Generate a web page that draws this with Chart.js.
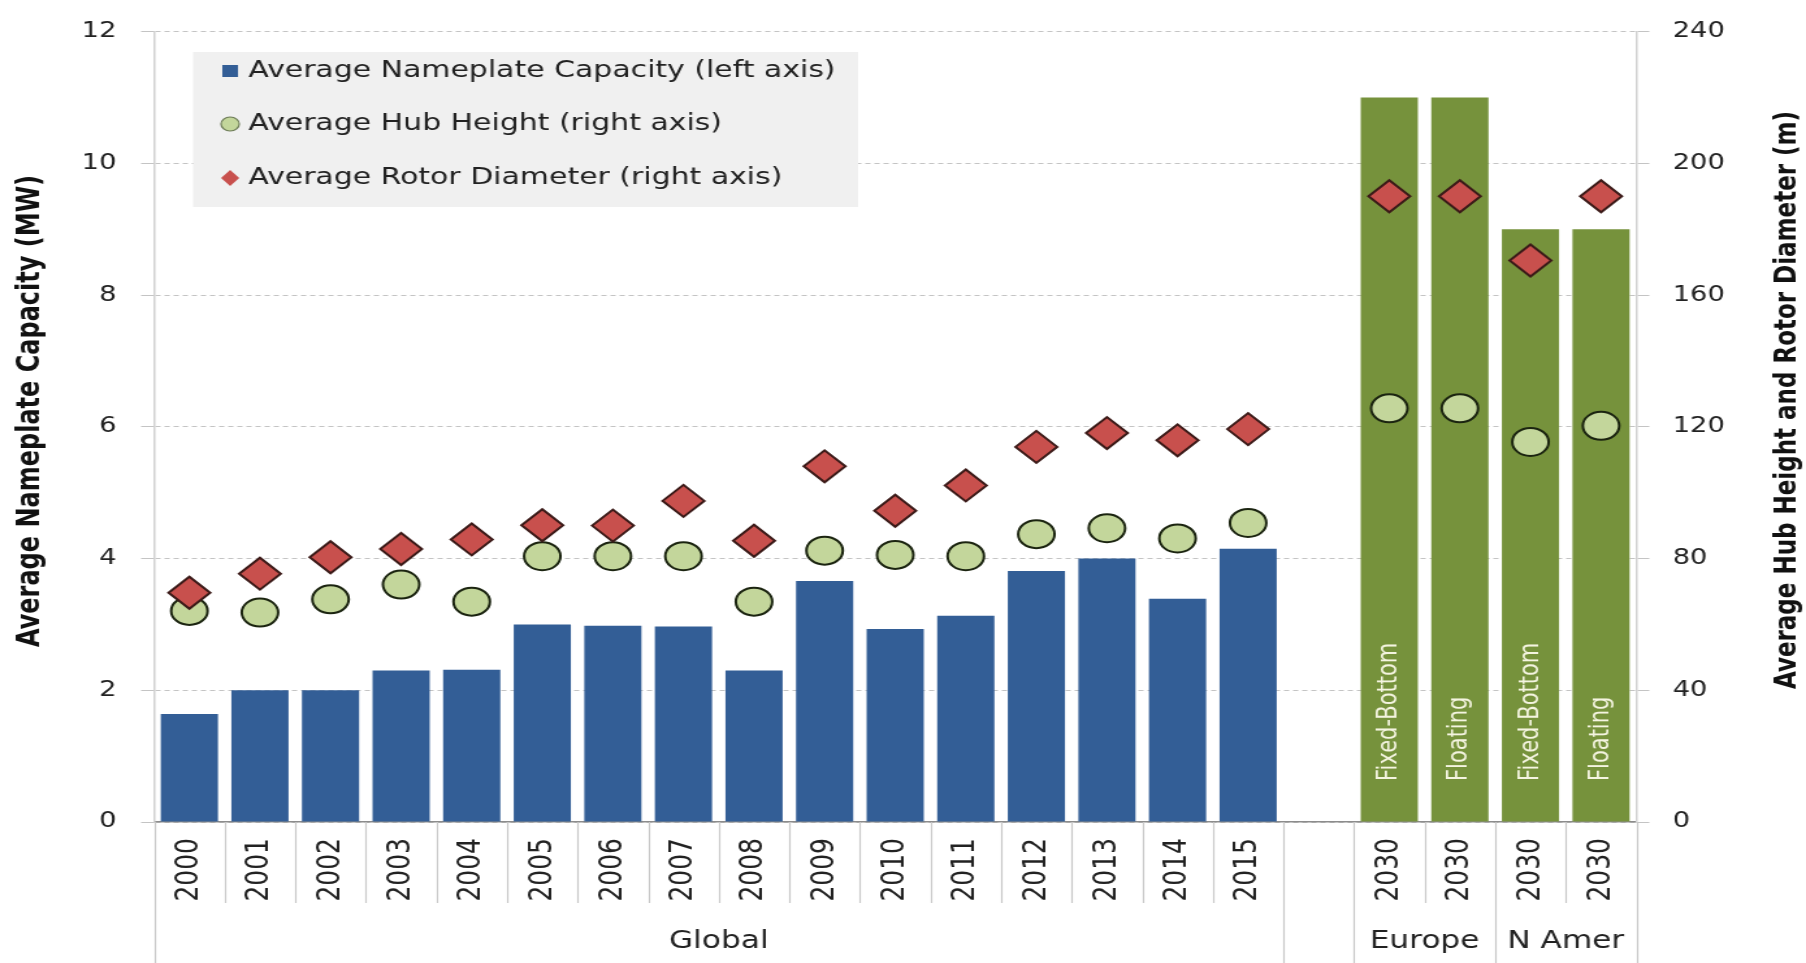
<!DOCTYPE html>
<html>
<head>
<meta charset="utf-8">
<script src="https://cdn.jsdelivr.net/npm/chart.js@4.4.0/dist/chart.umd.min.js"></script>
<style>
    html, body { margin: 0; padding: 0; background: #fff; overflow: hidden; }
</style>
</head>
<body>
<!-- the reference picture is stretched sideways, so the canvas is too -->
<canvas id="graph" width="1389" height="963" style="display:block;width:1806px;height:963px;"></canvas>
<script>
// Données
var categories = ['2000', '2001', '2002', '2003', '2004', '2005', '2006', '2007', '2008', '2009',
    '2010', '2011', '2012', '2013', '2014', '2015', '', '2030', '2030', '2030', '2030'];
var groups = ['Global', 'Global', 'Global', 'Global', 'Global', 'Global', 'Global', 'Global', 'Global', 'Global',
    'Global', 'Global', 'Global', 'Global', 'Global', 'Global', '', 'Europe', 'Europe', 'N Amer', 'N Amer'];
var barNotes = ['', '', '', '', '', '', '', '', '', '', '', '', '', '', '', '', '',
    'Fixed-Bottom', 'Floating', 'Fixed-Bottom', 'Floating'];

var capacity = [1.64, 2.0, 2.0, 2.3, 2.31, 3.0, 2.98, 2.97, 2.3, 3.66,
    2.93, 3.13, 3.81, 4.0, 3.39, 4.15, null, 11, 11, 9, 9];
var hubHeight = [64.1, 63.6, 67.6, 72.1, 66.9, 80.7, 80.7, 80.7, 66.9, 82.4,
    81.1, 80.7, 87.4, 89.2, 86.1, 90.8, null, 125.6, 125.6, 115.4, 120.3];
var rotorDiameter = [69.6, 75.4, 80.4, 82.9, 85.8, 90.1, 90.0, 97.5, 85.4, 108,
    94.5, 102.2, 113.9, 118.1, 115.9, 119.3, null, 190, 190, 170.5, 190];

var FONT = '"DejaVu Sans", sans-serif';
var BLUE = '#335E96';
var GREEN = '#76923C';
var HUB_FILL = '#C3D69B';
var ROTOR_FILL = '#C8504D';

// couleur des barres selon le groupe
var barColors = groups.map(function (g) { return g === 'Global' ? BLUE : GREEN; });

// Plugin pour la légende, les séparateurs et les titres
var decorPlugin = {
    id: 'decor',
    afterDatasetsDraw: function (chart) {
        var ctx = chart.ctx;
        var meta = chart.getDatasetMeta(0);
        var bottom = chart.scales.y.bottom;
        ctx.save();
        ctx.fillStyle = '#F4F4E0';
        ctx.font = '21px ' + FONT;
        ctx.textAlign = 'left';
        ctx.textBaseline = 'middle';
        meta.data.forEach(function (bar, i) {
            if (!barNotes[i]) return;
            ctx.save();
            ctx.translate(bar.x, bottom - 41);
            ctx.rotate(-Math.PI / 2);
            ctx.fillText(barNotes[i], 0, 0);
            ctx.restore();
        });
        ctx.restore();
    },
    afterDraw: function (chart) {
        var ctx = chart.ctx;
        var xs = chart.scales.x;
        var area = chart.chartArea;
        ctx.save();

        // séparateurs sous l'axe
        ctx.strokeStyle = '#C8C8C8';
        ctx.lineWidth = 1.2;
        for (var i = -1; i < categories.length; i++) {
            var px = Math.round(xs.getPixelForValue(i + 0.5)) + 0.5;
            var edge = i === -1 || i === categories.length - 1 || groups[i] !== groups[i + 1];
            ctx.beginPath();
            ctx.moveTo(px, area.bottom);
            ctx.lineTo(px, edge ? chart.height : area.bottom + 81);
            ctx.stroke();
        }

        // noms des groupes
        ctx.fillStyle = '#222';
        ctx.font = '24px ' + FONT;
        ctx.textAlign = 'center';
        ctx.textBaseline = 'middle';
        var seen = {};
        groups.forEach(function (g, i) {
            if (!g || seen[g]) return;
            seen[g] = true;
            var last = groups.lastIndexOf(g);
            ctx.fillText(g, xs.getPixelForValue((i + last) / 2), 942);
        });

        // titres des axes
        ctx.font = 'bold 24px ' + FONT;
        ctx.fillStyle = '#111';
        ctx.save();
        ctx.translate(24, 411);
        ctx.rotate(-Math.PI / 2);
        ctx.fillText('Average Nameplate Capacity (MW)', 0, 0);
        ctx.restore();
        ctx.font = 'bold 23px ' + FONT;
        ctx.save();
        ctx.translate(1375, 400);
        ctx.rotate(-Math.PI / 2);
        ctx.fillText('Average Hub Height and Rotor Diameter (m)', 0, 0);
        ctx.restore();

        // légende
        ctx.fillStyle = '#F0F0F0';
        ctx.fillRect(148.5, 52, 511.5, 155);
        var rows = [71, 124, 178];
        var mx = 177;
        ctx.fillStyle = BLUE;
        ctx.fillRect(mx - 6, rows[0] - 6, 12, 12);
        ctx.beginPath();
        ctx.arc(mx, rows[1], 7, 0, 2 * Math.PI);
        ctx.fillStyle = HUB_FILL;
        ctx.fill();
        ctx.strokeStyle = '#6B7A55';
        ctx.lineWidth = 1.2;
        ctx.stroke();
        ctx.beginPath();
        ctx.moveTo(mx, rows[2] - 8);
        ctx.lineTo(mx + 7, rows[2]);
        ctx.lineTo(mx, rows[2] + 8);
        ctx.lineTo(mx - 7, rows[2]);
        ctx.closePath();
        ctx.fillStyle = ROTOR_FILL;
        ctx.fill();
        ctx.fillStyle = '#222';
        ctx.font = '23px ' + FONT;
        ctx.textAlign = 'left';
        chart.data.datasets.forEach(function (ds, k) {
            ctx.fillText(ds.label, 191, rows[k]);
        });
        ctx.restore();
    }
};

var ctx = document.getElementById('graph').getContext('2d');
window.myChart = new Chart(ctx, {
    type: 'bar',
    data: {
        labels: categories,
        datasets: [{
            label: 'Average Nameplate Capacity (left axis)',
            data: capacity,
            backgroundColor: barColors,
            yAxisID: 'y',
            categoryPercentage: 1,
            barPercentage: 0.81,
            order: 3
        }, {
            type: 'line',
            label: 'Average Hub Height (right axis)',
            data: hubHeight,
            yAxisID: 'y1',
            showLine: false,
            pointStyle: 'circle',
            pointRadius: 14,
            pointBackgroundColor: HUB_FILL,
            pointBorderColor: '#1B2410',
            pointBorderWidth: 2,
            order: 2
        }, {
            type: 'line',
            label: 'Average Rotor Diameter (right axis)',
            data: rotorDiameter,
            yAxisID: 'y1',
            showLine: false,
            pointStyle: 'rectRot',
            pointRadius: 16,
            pointBackgroundColor: ROTOR_FILL,
            pointBorderColor: '#3B1A18',
            pointBorderWidth: 2,
            order: 1
        }]
    },
    options: {
        responsive: false,
        animation: false,
        devicePixelRatio: 1,
        layout: { padding: { top: 25, left: 0, right: 0, bottom: 0 } },
        plugins: {
            legend: { display: false },
            tooltip: { enabled: false }
        },
        scales: {
            x: {
                offset: true,
                grid: { display: false, drawTicks: false },
                border: { color: '#8C8C8C', width: 1.5 },
                ticks: {
                    autoSkip: false, minRotation: 90, maxRotation: 90, padding: 16,
                    color: '#222', font: { family: FONT, size: 25 }
                },
                afterFit: function (scale) { scale.height = 141; }
            },
            y: {
                position: 'left',
                min: 0,
                max: 12,
                ticks: { stepSize: 2, padding: 19, color: '#222', font: { family: FONT, size: 21 } },
                grid: { color: '#C4C4C4', lineWidth: 1, tickLength: 10 },
                border: { color: '#D0D0D0', width: 1.5, dash: [4, 3] },
                afterFit: function (scale) { scale.width = 118.5; }
            },
            y1: {
                position: 'right',
                min: 0,
                max: 240,
                ticks: { stepSize: 40, padding: 18, color: '#222', font: { family: FONT, size: 21 } },
                grid: { drawOnChartArea: false, color: '#C4C4C4', lineWidth: 1, tickLength: 10 },
                border: { color: '#D0D0D0', width: 1.5 },
                afterFit: function (scale) { scale.width = 130.5; }
            }
        }
    },
    plugins: [decorPlugin]
});
</script>
</body>
</html>
